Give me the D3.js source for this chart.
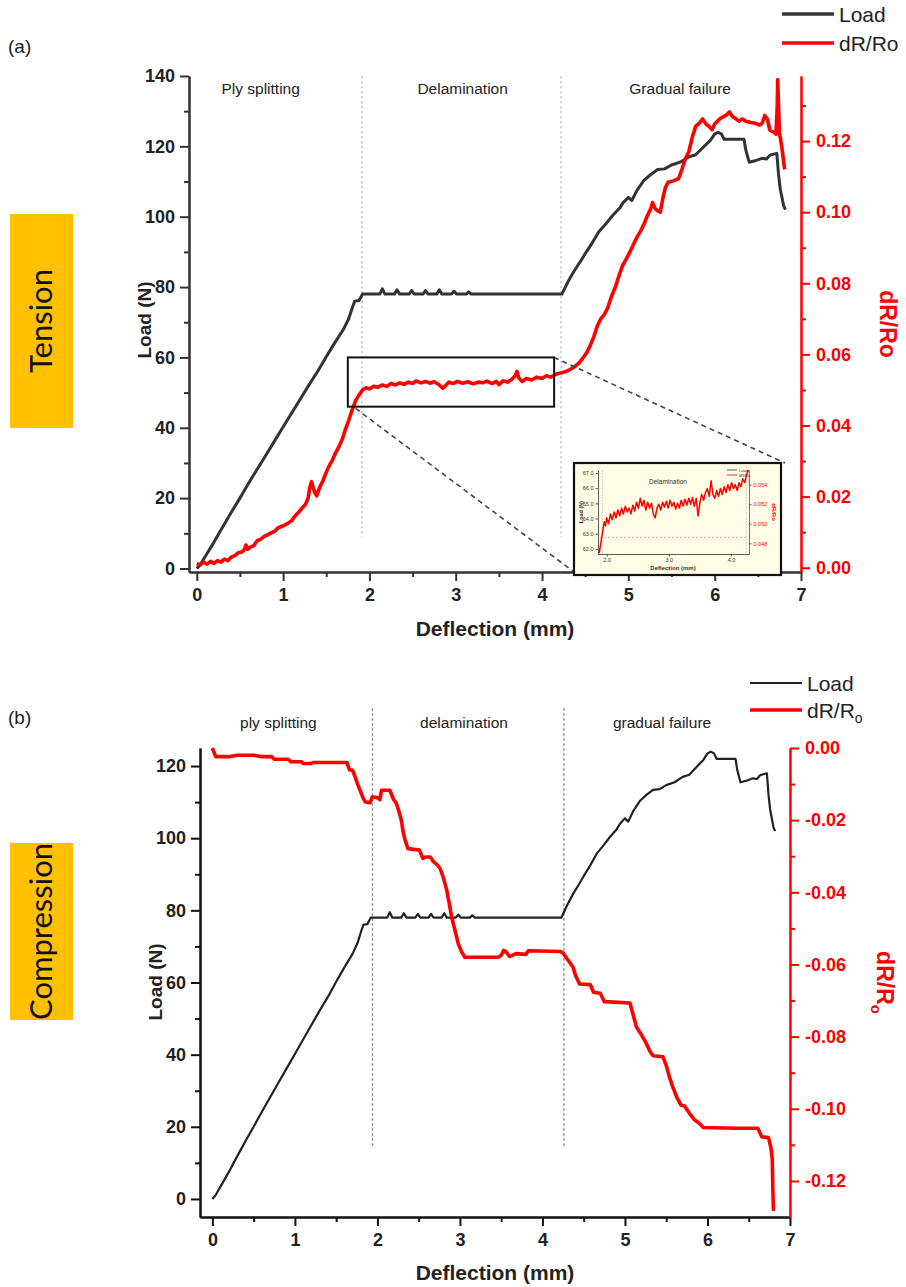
<!DOCTYPE html>
<html>
<head>
<meta charset="utf-8">
<script src="https://cdn.jsdelivr.net/npm/d3@7"></script>
<style>body{margin:0;background:#fff}</style>
</head>
<body>
<script>
// ---------- data ----------
// load vs deflection, same test shown in both panels
const loadCurve = [[0.0,0.0],[0.03,0.8],[0.05,1.5],[0.1,3.5],[0.2,7.5],[0.3,11.8],[0.4,16],[0.5,20],[0.6,24.2],[0.7,28.2],[0.8,32.2],[0.9,36.2],[1.0,40.2],[1.1,44.2],[1.2,48.2],[1.3,52.2],[1.4,56],[1.5,60.2],[1.6,64.2],[1.7,68],[1.76,71],[1.8,74],[1.83,76],[1.88,76.2],[1.92,78],[2.12,78],[2.15,79.5],[2.18,78],[2.29,78],[2.32,79.2],[2.35,78],[2.46,78],[2.49,79],[2.52,78],[2.62,78],[2.65,79],[2.68,78],[2.78,78],[2.81,79.2],[2.84,78],[2.95,78],[2.98,78.8],[3.01,78],[3.12,78],[3.15,78.6],[3.18,78],[4.23,78],[4.3,81.5],[4.37,84.5],[4.45,87.5],[4.5,89.5],[4.58,92.5],[4.66,95.8],[4.74,98],[4.82,100.4],[4.9,102.5],[4.94,104],[5.0,105.5],[5.04,104.6],[5.1,107.5],[5.18,110.3],[5.26,112],[5.34,113.4],[5.42,113.6],[5.5,114.7],[5.6,115.5],[5.7,117],[5.78,117.6],[5.87,119.8],[5.95,121.7],[6.0,123.5],[6.04,124],[6.08,123.5],[6.11,122],[6.34,122],[6.36,119],[6.4,115.5],[6.48,116],[6.55,116.6],[6.6,116.4],[6.64,117.5],[6.72,118],[6.74,112],[6.76,107.8],[6.8,103],[6.82,102]];

// dR/Ro in tension
const tensionDR = [[0.0,0.0012],[0.04,0.0008],[0.08,0.0016],[0.12,0.0010],[0.16,0.0018],[0.2,0.0012],[0.24,0.0020],[0.28,0.0016],[0.32,0.0024],[0.36,0.0020],[0.4,0.0030],[0.44,0.0034],[0.48,0.0042],[0.52,0.0044],[0.55,0.0050],[0.57,0.0064],[0.59,0.0052],[0.62,0.0058],[0.66,0.0062],[0.7,0.0076],[0.74,0.0080],[0.78,0.0088],[0.82,0.0092],[0.86,0.0098],[0.9,0.0102],[0.94,0.0112],[0.98,0.0116],[1.02,0.0120],[1.06,0.0126],[1.1,0.0132],[1.14,0.0146],[1.18,0.0156],[1.22,0.0168],[1.26,0.0178],[1.29,0.0196],[1.31,0.0226],[1.33,0.0242],[1.35,0.0224],[1.37,0.0210],[1.39,0.0202],[1.42,0.0224],[1.46,0.0244],[1.5,0.0268],[1.53,0.0285],[1.57,0.0302],[1.61,0.0324],[1.65,0.0342],[1.69,0.0364],[1.72,0.0388],[1.76,0.0414],[1.8,0.0444],[1.84,0.0470],[1.88,0.0486],[1.92,0.0500],[1.96,0.0506],[2.0,0.0503],[2.05,0.0510],[2.1,0.0508],[2.15,0.0514],[2.2,0.0510],[2.25,0.0518],[2.3,0.0514],[2.35,0.0520],[2.4,0.0516],[2.45,0.0522],[2.5,0.0518],[2.54,0.0525],[2.6,0.0520],[2.65,0.0524],[2.7,0.0519],[2.75,0.0523],[2.8,0.0516],[2.85,0.0505],[2.88,0.0512],[2.92,0.0522],[2.97,0.0518],[3.02,0.0524],[3.08,0.0519],[3.14,0.0523],[3.2,0.0517],[3.26,0.0522],[3.31,0.0520],[3.36,0.0525],[3.42,0.0518],[3.47,0.0524],[3.5,0.0515],[3.55,0.0526],[3.6,0.0522],[3.65,0.0530],[3.69,0.0540],[3.71,0.0552],[3.73,0.0534],[3.77,0.0524],[3.82,0.0532],[3.88,0.0528],[3.94,0.0536],[4.0,0.0532],[4.05,0.0540],[4.1,0.0536],[4.16,0.0544],[4.22,0.0548],[4.28,0.0552],[4.33,0.0558],[4.38,0.0566],[4.43,0.0576],[4.48,0.0592],[4.52,0.0606],[4.56,0.0626],[4.6,0.0650],[4.64,0.0680],[4.68,0.0700],[4.72,0.0712],[4.76,0.0730],[4.8,0.0760],[4.85,0.0790],[4.89,0.0820],[4.93,0.0848],[4.97,0.0866],[5.01,0.0884],[5.06,0.0910],[5.1,0.0930],[5.14,0.0946],[5.18,0.0966],[5.22,0.0990],[5.26,0.1010],[5.28,0.1027],[5.31,0.1010],[5.34,0.1004],[5.37,0.1000],[5.4,0.1040],[5.43,0.1070],[5.46,0.1084],[5.52,0.1088],[5.58,0.1094],[5.62,0.1120],[5.66,0.1150],[5.7,0.1170],[5.74,0.1210],[5.78,0.1242],[5.82,0.1250],[5.86,0.1262],[5.9,0.1248],[5.94,0.1240],[5.97,0.1232],[6.0,0.1248],[6.04,0.1258],[6.08,0.1266],[6.13,0.1272],[6.17,0.1282],[6.21,0.1268],[6.25,0.1262],[6.28,0.1256],[6.32,0.1262],[6.36,0.1256],[6.42,0.1252],[6.47,0.1250],[6.52,0.1245],[6.55,0.1250],[6.58,0.1272],[6.61,0.1262],[6.64,0.1230],[6.68,0.1226],[6.71,0.1219],[6.725,0.1300],[6.73,0.1373],[6.74,0.1300],[6.75,0.1224],[6.78,0.1180],[6.81,0.1120]];

// dR/Ro in compression
const compressionDR = [[0.0,0.0],[0.02,-0.0012],[0.04,-0.0024],[0.2,-0.0024],[0.3,-0.0020],[0.5,-0.0020],[0.6,-0.0024],[0.72,-0.0024],[0.75,-0.0031],[0.92,-0.0031],[0.95,-0.0038],[1.08,-0.0038],[1.1,-0.0043],[1.2,-0.0043],[1.22,-0.0040],[1.63,-0.0040],[1.66,-0.0060],[1.7,-0.0062],[1.73,-0.0080],[1.76,-0.0100],[1.79,-0.0117],[1.82,-0.0135],[1.85,-0.0149],[1.91,-0.0152],[1.94,-0.0135],[2.0,-0.0138],[2.03,-0.0143],[2.05,-0.0117],[2.15,-0.0117],[2.19,-0.0140],[2.23,-0.0154],[2.26,-0.0175],[2.29,-0.0200],[2.31,-0.0230],[2.33,-0.0251],[2.37,-0.0279],[2.51,-0.0283],[2.55,-0.0306],[2.58,-0.0302],[2.64,-0.0302],[2.68,-0.0315],[2.73,-0.0325],[2.76,-0.0334],[2.8,-0.0360],[2.84,-0.0394],[2.87,-0.0430],[2.9,-0.0469],[2.94,-0.0505],[2.98,-0.0543],[3.02,-0.0565],[3.06,-0.0580],[3.46,-0.0580],[3.5,-0.0575],[3.53,-0.0561],[3.56,-0.0565],[3.6,-0.0578],[3.64,-0.0574],[3.68,-0.0570],[3.8,-0.0572],[3.83,-0.0562],[4.21,-0.0564],[4.25,-0.0568],[4.3,-0.0585],[4.37,-0.0607],[4.4,-0.0630],[4.45,-0.0654],[4.58,-0.0656],[4.62,-0.0677],[4.7,-0.0680],[4.75,-0.0703],[5.06,-0.0707],[5.1,-0.0740],[5.14,-0.0774],[5.2,-0.0795],[5.25,-0.0815],[5.3,-0.0840],[5.34,-0.0853],[5.46,-0.0856],[5.5,-0.0880],[5.54,-0.0913],[5.58,-0.0940],[5.63,-0.0969],[5.68,-0.0990],[5.72,-0.0992],[5.78,-0.1012],[5.84,-0.1030],[5.9,-0.1040],[5.95,-0.1052],[6.35,-0.1054],[6.61,-0.1054],[6.66,-0.1078],[6.74,-0.1080],[6.77,-0.1110],[6.785,-0.1140],[6.79,-0.1200],[6.795,-0.1250],[6.8,-0.1283]];

// zoomed delamination region shown in the inset
const insetDR = [[1.88,0.0470],[1.9,0.0478],[1.92,0.0486],[1.94,0.0494],[1.96,0.0502],[1.98,0.0498],[2.0,0.0506],[2.03,0.0500],[2.06,0.0510],[2.09,0.0504],[2.12,0.0512],[2.15,0.0506],[2.18,0.0514],[2.21,0.0508],[2.24,0.0516],[2.27,0.0510],[2.3,0.0518],[2.33,0.0512],[2.36,0.0516],[2.39,0.0510],[2.42,0.0519],[2.45,0.0513],[2.48,0.0522],[2.51,0.0516],[2.54,0.0526],[2.57,0.0518],[2.6,0.0524],[2.63,0.0514],[2.66,0.0522],[2.69,0.0516],[2.72,0.0521],[2.75,0.0510],[2.78,0.0506],[2.81,0.0516],[2.84,0.0520],[2.87,0.0514],[2.9,0.0522],[2.93,0.0517],[2.96,0.0523],[2.99,0.0516],[3.02,0.0524],[3.05,0.0518],[3.08,0.0522],[3.11,0.0515],[3.14,0.0521],[3.17,0.0516],[3.2,0.0524],[3.23,0.0518],[3.26,0.0525],[3.29,0.0519],[3.32,0.0526],[3.35,0.0520],[3.38,0.0527],[3.41,0.0518],[3.44,0.0526],[3.47,0.0508],[3.5,0.0522],[3.53,0.0530],[3.56,0.0524],[3.59,0.0532],[3.62,0.0536],[3.65,0.0528],[3.68,0.0544],[3.71,0.0530],[3.74,0.0526],[3.77,0.0534],[3.8,0.0528],[3.83,0.0536],[3.86,0.0530],[3.89,0.0538],[3.92,0.0532],[3.95,0.0540],[3.98,0.0534],[4.01,0.0542],[4.04,0.0536],[4.07,0.0540],[4.1,0.0534],[4.13,0.0542],[4.16,0.0538],[4.19,0.0546],[4.22,0.0542],[4.25,0.0550],[4.28,0.0555]];

const xTicks = [0, 1, 2, 3, 4, 5, 6, 7];
const tensionLoadTicks = [0, 20, 40, 60, 80, 100, 120, 140];
const tensionDRTicks = [0, 0.02, 0.04, 0.06, 0.08, 0.10, 0.12];
const compLoadTicks = [0, 20, 40, 60, 80, 100, 120];
const compDRTicks = [0, -0.02, -0.04, -0.06, -0.08, -0.10, -0.12];
const tensionPhases = ['Ply splitting', 'Delamination', 'Gradual failure'];
const compPhases = ['ply splitting', 'delamination', 'gradual failure'];
const insetLoadTicks = [62, 63, 64, 65, 66, 67];
const insetDRTicks = [0.048, 0.050, 0.052, 0.054];
const insetXTicks = [2, 3, 4];

// ---------- page ----------
const width = 906;
const height = 1287;
const RED = '#ff0000';
const svg = d3.select('body').append('svg')
    .attr('width', width).attr('height', height)
    .style('font-family', '"Liberation Sans", Arial, sans-serif');
svg.append('rect').attr('width', width).attr('height', height).attr('fill', '#fff');

const range = (a, b, s) => d3.range(a, b + s / 2, s);

function styleAxis(g, color, w) {
    g.select('.domain').attr('stroke', color).attr('stroke-width', w);
    g.selectAll('.tick line').attr('stroke', color).attr('stroke-width', w);
    g.selectAll('.tick text').attr('fill', color);
}

function drawPanel(p) {
    const x = d3.scaleLinear().domain(p.xDomain).range([p.left, p.right]);
    const yL = d3.scaleLinear().domain(p.yLDomain).range([p.bottom, p.top]);
    const yR = d3.scaleLinear().domain(p.yRDomain).range([p.bottom, p.top]);
    const g = svg.append('g');

    // phase separators
    g.selectAll('line.phase')
        .data(p.phaseX)
        .join('line')
        .attr('x1', d => x(d)).attr('x2', d => x(d))
        .attr('y1', yL(p.phaseTop)).attr('y2', yL(p.phaseBottom))
        .attr('stroke', p.phaseColor).attr('stroke-width', 1.4)
        .attr('stroke-dasharray', '2.5,2.5');

    g.selectAll('text.phase')
        .data(p.phases)
        .join('text')
        .attr('x', (d, i) => x(p.phaseLabelX[i]))
        .attr('y', p.phaseLabelY)
        .attr('text-anchor', 'middle')
        .attr('font-size', 15.5)
        .attr('fill', '#222')
        .text(d => d);

    // minor axes first, majors on top
    const fmtR = d => d.toFixed(2);
    const axB = g.append('g').attr('transform', `translate(0,${p.bottom})`);
    axB.append('g').call(d3.axisBottom(x).tickValues(range(0.5, 6.5, 1)).tickSize(5).tickSizeOuter(0).tickFormat(''))
        .call(s => styleAxis(s, p.axisColor, 2));
    axB.append('g').call(d3.axisBottom(x).tickValues(xTicks).tickSize(9).tickSizeOuter(0).tickPadding(7))
        .call(s => styleAxis(s, p.axisColor, 2))
        .call(s => s.selectAll('text').attr('font-size', 18).attr('font-weight', 'bold').attr('fill', '#222'));

    const axL = g.append('g').attr('transform', `translate(${p.left},0)`);
    axL.append('g').call(d3.axisLeft(yL).tickValues(p.loadMinor).tickSize(5).tickSizeOuter(0).tickFormat(''))
        .call(s => styleAxis(s, p.axisColor, 2));
    axL.append('g').call(d3.axisLeft(yL).tickValues(p.loadTicks).tickSize(9).tickSizeOuter(0).tickPadding(5))
        .call(s => styleAxis(s, p.axisColor, 2))
        .call(s => s.selectAll('text').attr('font-size', 18).attr('font-weight', 'bold').attr('fill', '#222'));

    const axR = g.append('g').attr('transform', `translate(${p.right},0)`);
    axR.append('g').call(d3.axisRight(yR).tickValues(p.drMinor).tickSize(5).tickSizeOuter(0).tickFormat(''))
        .call(s => styleAxis(s, RED, 2));
    axR.append('g').call(d3.axisRight(yR).tickValues(p.drTicks).tickSize(9).tickSizeOuter(0).tickPadding(6).tickFormat(fmtR))
        .call(s => styleAxis(s, RED, 2))
        .call(s => s.selectAll('text').attr('font-size', 18).attr('font-weight', 'bold'));

    // axis titles
    g.append('text')
        .attr('transform', `translate(${p.loadTitleX},${p.loadTitleY}) rotate(-90)`)
        .attr('text-anchor', 'middle').attr('font-size', 19).attr('font-weight', 'bold').attr('fill', '#222')
        .text('Load (N)');
    g.append('text')
        .attr('x', (p.left + p.right) / 2).attr('y', p.xTitleY)
        .attr('text-anchor', 'middle').attr('font-size', 21).attr('font-weight', 'bold').attr('fill', '#222')
        .text('Deflection (mm)');
    const drTitle = g.append('text')
        .attr('transform', `translate(${p.drTitleX},${(p.top + p.bottom) / 2}) rotate(90)`)
        .attr('text-anchor', 'middle').attr('font-size', 23).attr('font-weight', 'bold').attr('fill', RED);
    if (p.subscript) {
        drTitle.append('tspan').text('dR/R');
        drTitle.append('tspan').attr('font-size', 15).attr('dy', 6).text('o');
    } else {
        drTitle.text('dR/Ro');
    }

    // curves
    const lineL = d3.line().x(d => x(d[0])).y(d => yL(d[1]));
    const lineR = d3.line().x(d => x(d[0])).y(d => yR(d[1]));
    g.append('path').datum(loadCurve).attr('d', lineL)
        .attr('fill', 'none').attr('stroke', p.loadColor).attr('stroke-width', p.loadWidth)
        .attr('stroke-linejoin', 'round');
    g.append('path').datum(p.dr).attr('d', lineR)
        .attr('fill', 'none').attr('stroke', RED).attr('stroke-width', 3.6)
        .attr('stroke-linejoin', 'round');

    // legend
    const lg = svg.append('g');
    lg.append('line').attr('x1', p.legX).attr('x2', p.legX + 52).attr('y1', p.legY).attr('y2', p.legY)
        .attr('stroke', p.loadColor).attr('stroke-width', p.legLoadWidth);
    lg.append('text').attr('x', p.legX + 57).attr('y', p.legY + 8).attr('font-size', 21).attr('fill', '#222').text('Load');
    lg.append('line').attr('x1', p.legX).attr('x2', p.legX + 52).attr('y1', p.legY + p.legGap).attr('y2', p.legY + p.legGap)
        .attr('stroke', RED).attr('stroke-width', 3.6);
    const lt = lg.append('text').attr('x', p.legX + 57).attr('y', p.legY + p.legGap + 8).attr('font-size', 21).attr('fill', '#222');
    if (p.subscript) {
        lt.append('tspan').text('dR/R');
        lt.append('tspan').attr('font-size', 14).attr('dy', 5).text('o');
    } else {
        lt.text('dR/Ro');
    }

    svg.append('text').attr('x', 8).attr('y', p.letterY).attr('font-size', 19).attr('fill', '#222').text(p.letter);

    // mode tag
    svg.append('rect').attr('x', 10).attr('y', p.tag[0]).attr('width', 63).attr('height', p.tag[1] - p.tag[0])
        .attr('fill', '#ffc000');
    svg.append('text')
        .attr('transform', `translate(${52},${(p.tag[0] + p.tag[1]) / 2}) rotate(-90)`)
        .attr('text-anchor', 'middle').attr('font-family', 'Lato, "Open Sans", sans-serif')
        .attr('font-size', 31).attr('fill', '#111')
        .text(p.tagText);

    return { x, yL, yR };
}

const panelA = drawPanel({
    xDomain: [-0.09, 7], yLDomain: [-1, 140], yRDomain: [-0.0012, 0.1383],
    left: 189, right: 801, top: 76, bottom: 572,
    loadTicks: tensionLoadTicks, loadMinor: range(10, 130, 20),
    drTicks: tensionDRTicks, drMinor: range(0.01, 0.13, 0.02),
    phaseX: [1.915, 4.22], phaseTop: 140, phaseBottom: 9, phaseColor: '#c8c8c8',
    phases: tensionPhases, phaseLabelX: [0.74, 3.08, 5.6], phaseLabelY: 94,
    axisColor: '#333', loadColor: '#333', loadWidth: 3, legLoadWidth: 3.6,
    dr: tensionDR, subscript: false,
    loadTitleX: 151, loadTitleY: 320, drTitleX: 880, xTitleY: 636,
    legX: 782, legY: 14, legGap: 29,
    letter: '(a)', letterY: 53, tag: [214, 428], tagText: 'Tension'
});

const panelB = drawPanel({
    xDomain: [-0.15, 7], yLDomain: [-5, 125], yRDomain: [-0.13, 0],
    left: 200, right: 790, top: 748, bottom: 1217,
    loadTicks: compLoadTicks, loadMinor: range(10, 110, 20),
    drTicks: compDRTicks, drMinor: range(-0.11, -0.01, 0.02),
    phaseX: [1.94, 4.26], phaseTop: 136, phaseBottom: 14.5, phaseColor: '#888',
    phases: compPhases, phaseLabelX: [0.8, 3.05, 5.45], phaseLabelY: 728,
    axisColor: '#111', loadColor: '#222', loadWidth: 2.2, legLoadWidth: 2.2,
    dr: compressionDR, subscript: true,
    loadTitleX: 162, loadTitleY: 982, drTitleX: 877, xTitleY: 1280,
    legX: 750, legY: 683, legGap: 27,
    letter: '(b)', letterY: 724, tag: [843, 1020], tagText: 'Compression'
});

// ---------- zoom box, leader lines and inset (panel a) ----------
const zx0 = panelA.x(1.75), zx1 = panelA.x(4.14), zy0 = panelA.yL(60), zy1 = panelA.yL(46);
const inset = { x: 574, y: 463, w: 207, h: 112 };

svg.append('line').attr('x1', panelA.x(1.84)).attr('y1', panelA.yL(45.5)).attr('x2', inset.x).attr('y2', inset.y + inset.h - 3)
    .attr('stroke', '#444').attr('stroke-width', 1.6).attr('stroke-dasharray', '5,4');
svg.append('line').attr('x1', zx1).attr('y1', zy0).attr('x2', inset.x + inset.w + 4).attr('y2', inset.y)
    .attr('stroke', '#444').attr('stroke-width', 1.6).attr('stroke-dasharray', '5,4');
svg.append('rect').attr('x', zx0).attr('y', zy0).attr('width', zx1 - zx0).attr('height', zy1 - zy0)
    .attr('fill', 'none').attr('stroke', '#111').attr('stroke-width', 2);

const ig = svg.append('g');
ig.append('rect').attr('x', inset.x).attr('y', inset.y).attr('width', inset.w).attr('height', inset.h)
    .attr('fill', '#fffde6').attr('stroke', '#111').attr('stroke-width', 2.2);

const ix = d3.scaleLinear().domain([1.86, 4.29]).range([598, 749]);
const iyL = d3.scaleLinear().domain([61.66, 67.2]).range([554, 470]);
const iyR = d3.scaleLinear().domain([0.0469, 0.0555]).range([554, 470]);

ig.append('clipPath').attr('id', 'inset-clip').append('rect')
    .attr('x', 598).attr('y', 470).attr('width', 151).attr('height', 84);

ig.selectAll('line.iv').data([1.93, 4.25]).join('line')
    .attr('x1', d => ix(d)).attr('x2', d => ix(d)).attr('y1', 470).attr('y2', 554)
    .attr('stroke', '#bbb').attr('stroke-width', 0.8).attr('stroke-dasharray', '1.5,1.5');
ig.append('line').attr('x1', 600).attr('x2', 747).attr('y1', iyR(0.0486)).attr('y2', iyR(0.0486))
    .attr('stroke', '#e6a3b5').attr('stroke-width', 1).attr('stroke-dasharray', '2,2');

const iaB = ig.append('g').attr('transform', 'translate(0,554)')
    .call(d3.axisBottom(ix).tickValues(insetXTicks).tickSize(2.5).tickSizeOuter(0).tickPadding(2));
const iaL = ig.append('g').attr('transform', 'translate(598,0)')
    .call(d3.axisLeft(iyL).tickValues(insetLoadTicks).tickSize(2.5).tickSizeOuter(0).tickPadding(2));
const iaR = ig.append('g').attr('transform', 'translate(749,0)')
    .call(d3.axisRight(iyR).tickValues(insetDRTicks).tickSize(2.5).tickSizeOuter(0).tickPadding(2).tickFormat(d => d.toFixed(3)));
[iaB, iaL].forEach(a => a.call(s => styleAxis(s, '#333', 0.8)).selectAll('text').attr('font-size', 5.5));
iaR.call(s => styleAxis(s, RED, 0.8)).selectAll('text').attr('font-size', 5.5);

ig.append('path').datum(insetDR)
    .attr('clip-path', 'url(#inset-clip)')
    .attr('d', d3.line().x(d => ix(d[0])).y(d => iyR(d[1])))
    .attr('fill', 'none').attr('stroke', RED).attr('stroke-width', 1.5).attr('stroke-linejoin', 'round');

ig.append('text').attr('x', 668).attr('y', 484).attr('text-anchor', 'middle').attr('font-size', 6.5).attr('fill', '#333').text('Delamination');
ig.append('text').attr('x', 673).attr('y', 570).attr('text-anchor', 'middle').attr('font-size', 6).attr('font-weight', 'bold').attr('fill', '#333').text('Deflection (mm)');
ig.append('text').attr('transform', 'translate(583,512) rotate(-90)').attr('text-anchor', 'middle').attr('font-size', 5.5).attr('font-weight', 'bold').attr('fill', '#333').text('Load (N)');
ig.append('text').attr('transform', 'translate(772,512) rotate(90)').attr('text-anchor', 'middle').attr('font-size', 6).attr('font-weight', 'bold').attr('fill', RED).text('dR/Ro');
ig.append('line').attr('x1', 727).attr('x2', 737).attr('y1', 470).attr('y2', 470).attr('stroke', '#333').attr('stroke-width', 0.8);
ig.append('line').attr('x1', 727).attr('x2', 737).attr('y1', 475).attr('y2', 475).attr('stroke', RED).attr('stroke-width', 0.8);
ig.append('text').attr('x', 739).attr('y', 472).attr('font-size', 4).attr('fill', '#333').text('Load');
ig.append('text').attr('x', 739).attr('y', 477).attr('font-size', 4).attr('fill', '#333').text('dR/Ro');
</script>
</body>
</html>
